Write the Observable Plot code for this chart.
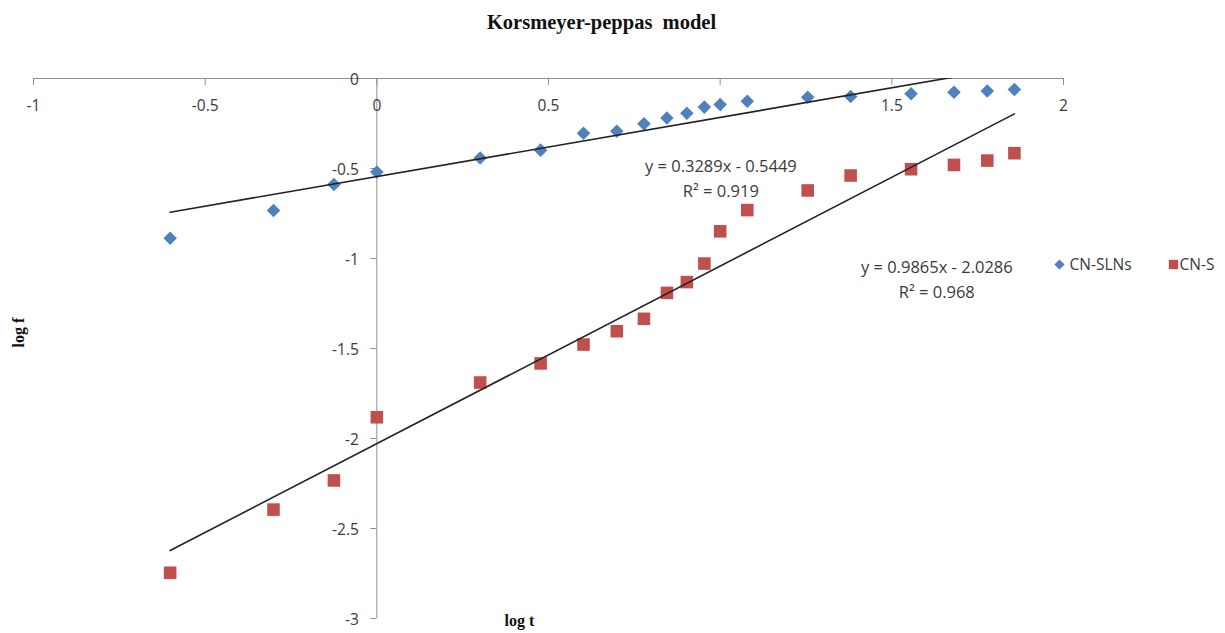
<!DOCTYPE html>
<html>
<head>
<meta charset="utf-8">
<script src="https://cdn.jsdelivr.net/npm/d3@7"></script>
<script src="https://cdn.jsdelivr.net/npm/@observablehq/plot@0.6"></script>
<style>
  body { margin: 0; background: #fff; }
  #chart svg { display: block; white-space: pre; }
  g[aria-label="tick labels"], g[aria-label="legend labels"] { letter-spacing: 0.6px; }
  g[aria-label="fit labels"] { letter-spacing: 0.9px; }
  g[aria-label="title"] { letter-spacing: 1.9px; }
  g[aria-label="axis titles"] { letter-spacing: 0.8px; }
</style>
</head>
<body>
<div id="chart"></div>
<script>
// log t (log of sampling time) shared by both formulations
const logT = [-0.602, -0.301, -0.125, 0, 0.301, 0.477, 0.602, 0.699, 0.778, 0.845,
              0.903, 0.954, 1, 1.079, 1.255, 1.380, 1.556, 1.681, 1.778, 1.857];
// log f (log of fraction released)
const slnLogF = [-0.887, -0.733, -0.589, -0.519, -0.442, -0.398, -0.304, -0.293, -0.252, -0.219,
                 -0.193, -0.159, -0.144, -0.126, -0.104, -0.100, -0.085, -0.076, -0.070, -0.061];
const sLogF = [-2.746, -2.395, -2.233, -1.882, -1.689, -1.583, -1.478, -1.404, -1.335, -1.191,
               -1.131, -1.028, -0.849, -0.731, -0.622, -0.539, -0.504, -0.480, -0.456, -0.415];

const seriesNames = ["CN-SLNs", "CN-S"];
const seriesColors = ["#4F81BD", "#C0504D"];
// linear trendlines: slope, intercept, R²
const fitSlopes = [0.3289, 0.9865];
const fitIntercepts = [-0.5449, -2.0286];
const fitR2 = [0.919, 0.968];

const xTicks = [-1, -0.5, 0, 0.5, 1, 1.5, 2];
const yTicks = [0, -0.5, -1, -1.5, -2, -2.5, -3];

const W = 1225, H = 633;
const M = {top: 78, right: 162, bottom: 15, left: 33};
const xDomain = [-1, 2], yDomain = [-3, 0];
const yPerPx = (yDomain[1] - yDomain[0]) / (H - M.top - M.bottom);
const xPerPx = (xDomain[1] - xDomain[0]) / (W - M.left - M.right);
const xTickLen = 7 * yPerPx, yTickLen = 6 * xPerPx;

const axisGray = "#8f8f8f", labelInk = "#3a3a3a";
const sansFont = "'Open Sans', 'Liberation Sans', sans-serif";
const serifFont = "'Liberation Serif', 'DejaVu Serif', serif";

const points = [
  ...logT.map((t, i) => ({series: seriesNames[0], t, f: slnLogF[i]})),
  ...logT.map((t, i) => ({series: seriesNames[1], t, f: sLogF[i]}))
];

const tMin = d3.min(logT), tMax = d3.max(logT);
const fitLines = seriesNames.flatMap((s, k) => [tMin, tMax].map(t => ({
  series: s, t, f: fitSlopes[k] * t + fitIntercepts[k]
})));

const fmtCoef = v => String(Math.abs(v));
const fitText = seriesNames.map((s, k) =>
  `y = ${fitSlopes[k]}x ${fitIntercepts[k] < 0 ? "-" : "+"} ${fmtCoef(fitIntercepts[k])}\nR² = ${fitR2[k]}`);
// label anchors (data coordinates) for the two trendline equations
const fitLabelT = [1.002, 1.631];
const fitLabelF = [-0.545, -1.105];

const chart = Plot.plot({
  width: W,
  height: H,
  marginTop: M.top,
  marginRight: M.right,
  marginBottom: M.bottom,
  marginLeft: M.left,
  x: {domain: xDomain, axis: null},
  y: {domain: yDomain, axis: null},
  style: {background: "#fff", fontFamily: sansFont, overflow: "visible"},
  marks: [
    // axes crossing at the origin
    Plot.ruleY([0], {stroke: axisGray, strokeWidth: 1}),
    Plot.ruleX([0], {stroke: axisGray, strokeWidth: 1}),
    Plot.ruleX(xTicks, {x: d => d, y1: 0, y2: -xTickLen, stroke: axisGray}),
    Plot.ruleY(yTicks, {y: d => d, x1: -yTickLen, x2: 0, stroke: axisGray}),
    Plot.text(xTicks, {x: d => d, y: 0, dy: 28, text: d => String(d),
      fontSize: 15.5, fill: labelInk, ariaLabel: "tick labels"}),
    Plot.text(yTicks, {x: 0, y: d => d, dx: -18, dy: 2, text: d => String(d), textAnchor: "end",
      fontSize: 15.5, fill: labelInk, ariaLabel: "tick labels"}),

    // observations
    Plot.dot(points.filter(d => d.series === seriesNames[0]), {
      x: "t", y: "f", symbol: "diamond2", r: 6.1, fill: seriesColors[0], stroke: "none"}),
    Plot.dot(points.filter(d => d.series === seriesNames[1]), {
      x: "t", y: "f", symbol: "square", r: 7.1, fill: seriesColors[1], stroke: "none"}),

    // linear trendlines
    Plot.line(fitLines, {x: "t", y: "f", z: "series", stroke: "#222", strokeWidth: 1.6, clip: true}),
    Plot.text(fitText, {x: (d, i) => fitLabelT[i], y: (d, i) => fitLabelF[i], text: d => d,
      lineHeight: 1.5, fontSize: 16.5, fill: labelInk, ariaLabel: "fit labels"}),

    // legend
    Plot.dot([0], {frameAnchor: "top-right", dx: -4, dy: 186, symbol: "diamond2", r: 4.6,
      fill: seriesColors[0], stroke: "none"}),
    Plot.dot([0], {frameAnchor: "top-right", dx: 110, dy: 186, symbol: "square", r: 5.3,
      fill: seriesColors[1], stroke: "none"}),
    Plot.text([seriesNames[0]], {frameAnchor: "top-right", dx: 6, dy: 187, textAnchor: "start",
      lineAnchor: "middle", text: d => d, fontSize: 15.5, fill: labelInk, ariaLabel: "legend labels"}),
    Plot.text([seriesNames[1]], {frameAnchor: "top-right", dx: 116, dy: 187, textAnchor: "start",
      lineAnchor: "middle", text: d => d, fontSize: 15.5, fill: labelInk, ariaLabel: "legend labels"}),

    // titles
    Plot.text(["Korsmeyer-peppas  model"], {frameAnchor: "top", dx: 53, dy: -56, lineAnchor: "middle",
      text: d => d, fontFamily: serifFont, fontWeight: "bold", fontSize: 20.5, fill: "#111", ariaLabel: "title"}),
    Plot.text(["log f"], {frameAnchor: "left", dx: -15, dy: -1, rotate: -90, lineAnchor: "middle",
      text: d => d, fontFamily: serifFont, fontWeight: "bold", fontSize: 16, fill: "#111", ariaLabel: "axis titles"}),
    Plot.text(["log t"], {frameAnchor: "bottom", dx: -29, dy: 2, lineAnchor: "middle",
      text: d => d, fontFamily: serifFont, fontWeight: "bold", fontSize: 16, fill: "#111", ariaLabel: "axis titles"})
  ]
});

document.getElementById("chart").appendChild(chart);
</script>
</body>
</html>
